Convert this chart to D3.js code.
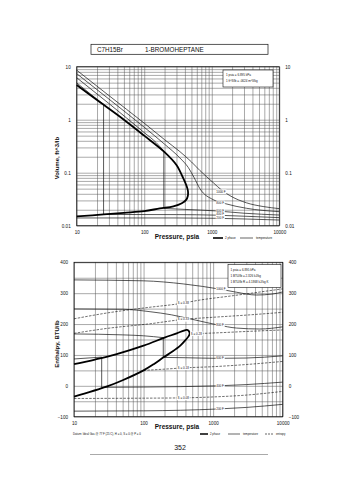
<!DOCTYPE html>
<html><head><meta charset="utf-8">
<script src="https://cdn.jsdelivr.net/npm/d3@7/dist/d3.min.js"></script>
<style>
body{margin:0;background:#fff}
svg{display:block}
text{font-family:"Liberation Sans",Arial,sans-serif;fill:#111}
</style>
</head><body>
<svg id="c" width="355" height="480"></svg>
<script>
// ---------------- DATA ----------------
const pressureTicks = [10, 100, 1000, 10000];
const volumeTicks = [0.01, 0.1, 1, 10];
const volumeTickLabels = ["0.01", "0.1", "1", "10"];
const enthalpyTicks = [-100, 0, 100, 200, 300, 400];
const enthalpyGrid = [-50, 50, 150, 250, 350];

// top chart: [pressure psia, volume ft^3/lb]
const satVolume = [[10,4.5],[20,2.35],[50,1.0],[100,0.5],[200,0.245],[300,0.14],[376,0.08],[420,0.058],[440,0.048],[446,0.042],[441,0.036],[420,0.031],[360,0.0265],[270,0.0232],[170,0.0212],[100,0.0188],[50,0.0175],[25,0.0163],[10,0.015]];
const vol1000F = [[[10,8.6],[30,2.85],[100,0.86],[200,0.42],[337,0.25],[500,0.16],[667,0.11],[1050,0.065],[1400,0.047],[1850,0.037],[3270,0.027],[5760,0.023],[10000,0.021]]];
const vol800F = [[[10,7.4],[30,2.45],[100,0.72],[200,0.345],[337,0.19],[450,0.125],[550,0.08],[667,0.05],[1050,0.031],[1600,0.026],[3270,0.0213],[10000,0.0184]]];
const vol600F = [[[10,6.2],[30,2.02],[100,0.57],[150,0.37],[195,0.255]],[[195,0.255],[195,0.0212]],[[195,0.0212],[400,0.0203],[1170,0.019],[3000,0.0172],[10000,0.0159]]];
const vol400F = [[[10,4.95],[18,2.7],[25,1.95]],[[25,1.95],[25,0.0163]],[[25,0.0163],[300,0.0162],[1170,0.0158],[3000,0.0151],[10000,0.0142]]];
const vol200F = [[[10,0.014],[300,0.014],[1170,0.0138],[3000,0.0134],[10000,0.0128]]];
const volIsoNames = ["1000 F","800 F","600 F","400 F","200 F"];
const volLabelP = 1170;
const volLabelV = [0.044, 0.027, 0.0192, 0.0165, 0.0141];

// bottom chart: [pressure psia, enthalpy BTU/lb]
const satEnthalpy = [[10,70],[20,85],[40,102],[100,130],[200,156],[300,170],[380,179],[420,181],[448,177],[460,168],[445,161],[400,148],[340,131],[260,111],[196,93],[140,70],[100,50],[50,18],[30,-2],[10,-35]];
const h1000F = [[[10,343],[100,340],[372,330],[700,322],[1250,313],[2180,303],[4200,294],[7000,297],[10000,304]]];
const h800F = [[[10,249],[50,248],[124,240],[250,230],[464,217],[800,205],[1180,197],[2180,187],[4700,184],[10000,191]]];
const h600F = [[[10,168],[50,165],[100,162],[192,156]],[[192,156],[192,92]],[[192,92],[400,91],[1180,89],[3000,90],[10000,97]]];
const h400F = [[[10,87],[25,93]],[[25,93],[25,-5]],[[25,-5],[100,-4],[1180,0],[3000,4],[10000,12]]];
const h200F = [[[10,-82],[100,-81],[1180,-75],[3000,-70],[10000,-60]]];
const hIsoNames = ["1000 F","800 F","600 F","400 F","200 F"];
const hLabelP = 1110;
const hLabelH = [315, 198, 90, 0, -74];

const sLine038 = [[10,217],[30,236],[100,252],[372,268],[580,276],[1950,292],[10000,314]];
const sLine033 = [[10,170],[30,186],[124,201],[372,215],[1000,222],[3000,229],[10000,238]];
const sLine028 = [[460,168],[577,169],[1000,171],[3000,176],[10000,181]];
const sLine018 = [[100,50],[200,54],[372,58],[1000,62],[3000,69],[10000,79]];
const sLine008 = [[10,-41],[100,-40],[372,-39],[1000,-36],[3000,-30],[10000,-18]];
const sNames = ["S = 0.38","S = 0.33","S = 0.28","S = 0.18","S = 0.08"];
const sLabelP = [372, 372, 475, 372, 372];
const sLabelH = [268, 215, 169, 58, -39];

const topBoxLines = ["1 psia = 6.895 kPa", "1 ft^3/lb = .0624 m^3/kg"];
const botBoxLines = ["1 psia = 6.895 kPa", "1 BTU/lb = 2.326 kJ/kg", "1 BTU/lb R = 4.1868 kJ/kg K"];

// ---------------- DRAW ----------------
const svg = d3.select("#c");
svg.append("rect").attr("width",355).attr("height",480).attr("fill","#fff");
const GRID = "#555";

function logMinor(lo, hi){ const a=[]; for(let d=lo; d<hi; d*=10){ for(let k=1;k<10;k++) a.push(+(k*d).toPrecision(3)); } a.push(hi); return a; }

function whiteLabel(g, x, y, txt, anchor, fs){
  const t = g.append("text").attr("x",x).attr("y",y).attr("dy","0.35em")
    .attr("text-anchor",anchor).attr("font-size",fs).text(txt);
  const b = t.node().getBBox();
  g.insert("rect", () => t.node()).attr("x",b.x-0.6).attr("y",b.y-0.2).attr("width",b.width+1.2).attr("height",b.height+0.4).attr("fill","#fff");
}

function drawSegs(g, segs, x, y, opts){
  segs.forEach(s => {
    const curve = s.length === 2 ? d3.curveLinear : d3.curveMonotoneX;
    const ln = d3.line().x(d=>x(d[0])).y(d=>y(d[1])).curve(curve);
    g.append("path").attr("d", ln(s)).attr("fill","none").attr("stroke","#111")
      .attr("stroke-width", opts.w).attr("stroke-dasharray", opts.dash || null);
  });
}

function frame(g, x, y){
  const [x0,x1] = x.range(), [y0,y1] = y.range();
  g.append("rect").attr("x",x0).attr("y",y1).attr("width",x1-x0).attr("height",y0-y1)
    .attr("fill","none").attr("stroke","#111").attr("stroke-width",0.8);
}

// Title box
svg.append("rect").attr("x",91).attr("y",44.3).attr("width",177).attr("height",10)
  .attr("fill","#fff").attr("stroke","#111").attr("stroke-width",0.7);
svg.append("text").attr("x",97).attr("y",52).attr("font-size",6.3).text("C7H15Br");
svg.append("text").attr("x",145).attr("y",52).attr("font-size",6.3).text("1-BROMOHEPTANE");

// ---------- TOP CHART ----------
const xT = d3.scaleLog().domain([10,10000]).range([76.7,279.3]);
const yT = d3.scaleLog().domain([0.01,10]).range([225.7,66.7]);
const gT = svg.append("g");
const hT = yT.range()[0]-yT.range()[1], wT = xT.range()[1]-xT.range()[0];

gT.append("g").attr("transform",`translate(0,${yT.range()[0]})`)
  .call(d3.axisBottom(xT).tickValues(logMinor(10,10000)).tickSize(-hT).tickFormat(""))
  .call(g=>{g.select(".domain").remove(); g.selectAll("line").attr("stroke",GRID).attr("stroke-width",0.5);});
gT.append("g").attr("transform",`translate(${xT.range()[0]},0)`)
  .call(d3.axisLeft(yT).tickValues(logMinor(0.01,10)).tickSize(-wT).tickFormat(""))
  .call(g=>{g.select(".domain").remove(); g.selectAll("line").attr("stroke",GRID).attr("stroke-width",0.5);});

const topIsos = [vol1000F, vol800F, vol600F, vol400F, vol200F];
topIsos.forEach(s => drawSegs(gT, s, xT, yT, {w:0.7}));
gT.append("path").attr("d", d3.line().x(d=>xT(d[0])).y(d=>yT(d[1])).curve(d3.curveCatmullRom.alpha(0.5))(satVolume))
  .attr("fill","none").attr("stroke","#000").attr("stroke-width",1.8);
volIsoNames.forEach((n,i)=> whiteLabel(gT, xT(volLabelP), yT(volLabelV[i]), n, "start", 3));
frame(gT, xT, yT);

gT.append("g").attr("transform",`translate(0,${yT.range()[0]+5})`)
  .call(d3.axisBottom(xT).tickValues(pressureTicks).tickSize(0).tickFormat(d3.format("d")))
  .call(g=>{g.select(".domain").remove(); g.selectAll("text").attr("font-size",4.6).attr("dy","0");});
gT.append("g").attr("transform",`translate(${xT.range()[0]-3},0)`)
  .call(d3.axisLeft(yT).tickValues(volumeTicks).tickSize(0).tickFormat((d,i)=>volumeTickLabels[i]))
  .call(g=>{g.select(".domain").remove(); g.selectAll("text").attr("font-size",4.6);});
gT.append("g").attr("transform",`translate(${xT.range()[1]+3},0)`)
  .call(d3.axisRight(yT).tickValues(volumeTicks).tickSize(0).tickFormat((d,i)=>volumeTickLabels[i]))
  .call(g=>{g.select(".domain").remove(); g.selectAll("text").attr("font-size",4.6);});

gT.append("text").attr("x",177).attr("y",239).attr("text-anchor","middle").attr("font-size",6.5).attr("font-weight","bold").attr("fill","#222").text("Pressure,  psia");
gT.append("text").attr("transform","translate(59,158) rotate(-90)").attr("text-anchor","middle").attr("font-size",6).attr("font-weight","bold").text("Volume, ft^3/lb");

const tb = gT.append("g");
tb.append("rect").attr("x",223).attr("y",70).attr("width",50).attr("height",17).attr("fill","#fff").attr("stroke","#111").attr("stroke-width",0.6);
topBoxLines.forEach((t,i)=> tb.append("text").attr("x",226).attr("y",76+i*5.5).attr("font-size",3).text(t));

gT.append("line").attr("x1",213).attr("x2",223).attr("y1",238).attr("y2",238).attr("stroke","#000").attr("stroke-width",1.6);
gT.append("text").attr("x",225).attr("y",239).attr("font-size",3).text("2 phase");
gT.append("line").attr("x1",240).attr("x2",253).attr("y1",238).attr("y2",238).attr("stroke","#000").attr("stroke-width",0.6);
gT.append("text").attr("x",256).attr("y",239).attr("font-size",3).text("temperature");

// ---------- BOTTOM CHART ----------
const xB = d3.scaleLog().domain([10,10000]).range([74,282.7]);
const yB = d3.scaleLinear().domain([-100,400]).range([416.7,262.3]);
const gB = svg.append("g");
const hB = yB.range()[0]-yB.range()[1], wB = xB.range()[1]-xB.range()[0];

gB.append("g").attr("transform",`translate(0,${yB.range()[0]})`)
  .call(d3.axisBottom(xB).tickValues(logMinor(10,10000)).tickSize(-hB).tickFormat(""))
  .call(g=>{g.select(".domain").remove(); g.selectAll("line").attr("stroke",GRID).attr("stroke-width",0.5);});
gB.append("g").attr("transform",`translate(${xB.range()[0]},0)`)
  .call(d3.axisLeft(yB).tickValues(enthalpyTicks.concat(enthalpyGrid)).tickSize(-wB).tickFormat(""))
  .call(g=>{g.select(".domain").remove(); g.selectAll("line").attr("stroke",GRID).attr("stroke-width",0.5);});

const sLines = [sLine038, sLine033, sLine028, sLine018, sLine008];
sLines.forEach(s => drawSegs(gB, [s], xB, yB, {w:0.6, dash:"2.5,1.3"}));
const botIsos = [h1000F, h800F, h600F, h400F, h200F];
botIsos.forEach(s => drawSegs(gB, s, xB, yB, {w:0.7}));
gB.append("path").attr("d", d3.line().x(d=>xB(d[0])).y(d=>yB(d[1])).curve(d3.curveCatmullRom.alpha(0.5))(satEnthalpy))
  .attr("fill","none").attr("stroke","#000").attr("stroke-width",1.8);
hIsoNames.forEach((n,i)=> whiteLabel(gB, xB(hLabelP), yB(hLabelH[i]), n, "start", 3));
sNames.forEach((n,i)=> whiteLabel(gB, xB(sLabelP[i]), yB(sLabelH[i]), n, i===2?"start":"middle", 3));
frame(gB, xB, yB);

gB.append("g").attr("transform",`translate(0,${yB.range()[0]+5})`)
  .call(d3.axisBottom(xB).tickValues(pressureTicks).tickSize(0).tickFormat(d3.format("d")))
  .call(g=>{g.select(".domain").remove(); g.selectAll("text").attr("font-size",4.6).attr("dy","0");});
gB.append("g").attr("transform",`translate(${xB.range()[0]-3},0)`)
  .call(d3.axisLeft(yB).tickValues(enthalpyTicks).tickSize(0))
  .call(g=>{g.select(".domain").remove(); g.selectAll("text").attr("font-size",4.6);});
gB.append("g").attr("transform",`translate(${xB.range()[1]+3},0)`)
  .call(d3.axisRight(yB).tickValues(enthalpyTicks).tickSize(0))
  .call(g=>{g.select(".domain").remove(); g.selectAll("text").attr("font-size",4.6);});

gB.append("text").attr("x",177).attr("y",429).attr("text-anchor","middle").attr("font-size",6.5).attr("font-weight","bold").attr("fill","#222").text("Pressure,  psia");
gB.append("text").attr("transform","translate(59,344) rotate(-90)").attr("text-anchor","middle").attr("font-size",6).attr("font-weight","bold").text("Enthalpy, BTU/lb");

const bb = gB.append("g");
bb.append("rect").attr("x",228).attr("y",264.5).attr("width",53).attr("height",23).attr("fill","#fff").attr("stroke","#111").attr("stroke-width",0.6);
botBoxLines.forEach((t,i)=> bb.append("text").attr("x",230.5).attr("y",270.5+i*6).attr("font-size",3).text(t));

gB.append("text").attr("x",73).attr("y",435).attr("font-size",2.8).text("Datum: Ideal Gas @ 77 F (25 C), H = 0, S = 0 @ P = 0");
gB.append("line").attr("x1",200).attr("x2",208).attr("y1",434).attr("y2",434).attr("stroke","#000").attr("stroke-width",1.5);
gB.append("text").attr("x",210).attr("y",435).attr("font-size",2.8).text("2 phase");
gB.append("line").attr("x1",228).attr("x2",240).attr("y1",434).attr("y2",434).attr("stroke","#000").attr("stroke-width",0.6);
gB.append("text").attr("x",243).attr("y",435).attr("font-size",2.8).text("temperature");
gB.append("line").attr("x1",265).attr("x2",274).attr("y1",434).attr("y2",434).attr("stroke","#000").attr("stroke-width",0.6).attr("stroke-dasharray","2,1");
gB.append("text").attr("x",276).attr("y",435).attr("font-size",2.8).text("entropy");

svg.append("text").attr("x",180).attr("y",450).attr("text-anchor","middle").attr("font-size",7).attr("font-family","'Liberation Serif',serif").text("352");
svg.append("line").attr("x1",90).attr("x2",268).attr("y1",454.5).attr("y2",454.5).attr("stroke","#555").attr("stroke-width",0.5);
</script>
</body></html>
